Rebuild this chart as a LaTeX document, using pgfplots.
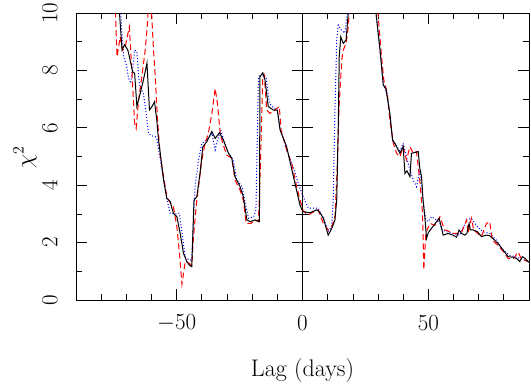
\documentclass[border=0pt]{standalone}
\usepackage{pgfplots}
\pgfplotsset{compat=1.18}
\usepackage{pgfplotstable}

% black solid curve
\pgfplotstableread{
x y
-76 14
-73.5 11
-71.7 8.71
-70.7 8.89
-69.4 8.71
-68.5 8.36
-67.5 7.95
-66.7 7.90
-65.8 6.74
-64.5 7.20
-63.2 7.67
-61.8 8.25
-60.8 6.62
-59.8 6.74
-58.8 6.91
-57.9 6.27
-57.2 5.57
-56.5 5.11
-55.2 4.18
-53.9 3.54
-52.6 3.43
-51.3 3.02
-49.9 2.90
-48.6 2.32
-47.3 1.63
-46.0 1.35
-45.0 1.22
-44.0 1.16
-43.1 3.48
-42.0 3.60
-40.7 4.42
-39.6 5.34
-38.0 5.52
-36.0 5.87
-34.7 5.63
-33.0 5.83
-31.4 5.57
-29.4 5.11
-28.1 4.94
-26.8 4.30
-24.8 3.95
-23.5 3.60
-22.1 2.79
-20.8 2.73
-18.8 2.79
-17.1 2.73
-16.9 7.78
-15.8 7.92
-14.9 7.67
-13.6 6.74
-11.6 6.62
-10.0 6.62
-8.9 5.92
-6.3 5.34
-3.0 4.07
-1.0 3.31
0.1 3.08
3.0 3.04
5.6 3.14
6.5 3.10
8.3 2.85
10.2 2.26
11.6 2.49
12.9 2.79
13.6 3.5
14.2 6.0
14.6 8.48
15.2 9.17
16.2 8.94
17.3 9.06
18.2 10.0
19.5 12
22 14
26 14
28.5 11
29.2 10
30.8 8.71
32.1 7.49
33.1 7.37
34.7 6.50
35.8 5.57
36.7 5.46
37.4 5.34
38.7 5.11
40.0 5.34
40.7 4.41
41.5 4.50
42.7 4.30
43.3 5.11
46.0 5.17
46.6 4.60
47.3 4.30
47.9 3.48
48.6 2.90
49.3 2.15
50.0 2.35
51.3 2.50
52.6 2.65
54.3 2.85
55.9 2.26
57.9 2.32
59.8 2.26
61.2 2.19
62.2 2.44
63.2 2.32
64.5 2.26
65.3 2.32
66.2 2.67
66.7 2.44
67.8 2.44
69.5 2.38
71.1 2.21
73.1 2.26
74.4 2.24
75.7 2.14
77.7 1.97
79.7 1.74
81.7 1.51
83.7 1.49
85.0 1.45
86.3 1.34
87.4 1.51
88.5 1.45
89.6 1.34
90.5 1.30
}\solidtab

% red dashed curve
\pgfplotstableread{
x y
-76 12
-74.4 10.2
-73.7 8.48
-72.4 9.17
-71.5 8.70
-70.5 8.80
-68.8 9.52
-67.8 8.00
-66.7 6.16
-66.1 5.98
-65.1 7.00
-63.8 7.80
-62.5 8.71
-61.8 9.41
-61.2 10.2
-60.6 10.4
-59.9 9.90
-59.2 8.71
-58.5 7.78
-57.9 6.74
-57.2 5.80
-56.5 4.99
-55.2 4.30
-53.9 3.60
-52.6 3.40
-51.3 3.25
-49.9 2.55
-48.9 1.63
-47.9 0.55
-46.6 1.34
-45.5 1.30
-44.0 1.22
-43.3 2.21
-42.0 3.48
-41.3 3.95
-40.0 4.88
-38.7 5.46
-37.4 5.81
-36.0 6.50
-34.7 7.37
-33.8 6.85
-32.7 5.81
-31.7 5.46
-30.1 5.05
-28.1 4.94
-26.8 4.18
-24.8 3.83
-23.5 3.48
-22.4 2.67
-20.5 2.67
-18.8 2.79
-17.5 2.73
-16.6 5.00
-15.8 7.78
-15.2 7.85
-14.2 6.62
-12.9 6.50
-11.0 6.62
-9.2 6.74
-8.5 5.92
-6.3 5.23
-4.3 4.76
-2.3 3.95
-1.0 3.50
0.3 3.10
2.3 2.96
4.0 3.05
6.2 3.14
8.3 2.67
10.2 2.44
11.6 2.55
12.9 2.90
13.8 4.64
14.6 6.85
15.6 8.36
16.2 8.71
17.3 8.94
18.2 9.52
18.8 10.3
20 13
26 14
29 11
29.8 10.2
31.4 8.48
32.3 7.67
33.7 7.20
34.7 6.27
36.1 5.46
37.4 5.11
38.7 4.99
40.0 5.34
41.3 4.88
42.7 5.34
44.0 5.11
45.3 5.17
46.6 4.18
47.7 3.02
48.2 1.05
49.0 2.32
50.6 2.67
52.6 2.60
54.6 2.90
56.5 2.44
58.0 2.40
59.8 2.32
61.8 2.32
63.2 2.35
65.2 2.79
65.8 2.32
67.1 2.85
68.0 2.44
71.1 2.21
73.1 2.67
74.4 2.73
75.4 2.09
77.7 1.90
79.7 1.70
81.7 1.45
83.7 1.43
85.7 1.67
87.0 1.43
89.6 1.34
90.5 1.30
}\dashtab

% blue dotted curve
\pgfplotstableread{
x y
-76 13
-72.5 10.5
-71.9 9.5
-71.1 8.48
-70.0 8.20
-69.1 7.72
-68.3 7.55
-67.5 8.00
-66.7 8.71
-65.8 8.65
-65.1 7.78
-64.5 7.40
-63.2 7.20
-61.8 6.27
-61.2 5.80
-59.8 5.72
-58.5 5.69
-57.9 5.63
-56.5 4.90
-55.2 4.18
-53.9 3.54
-52.6 3.02
-50.5 3.00
-48.9 3.02
-47.5 2.09
-46.6 1.50
-45.0 1.39
-44.0 1.40
-43.6 2.32
-42.7 3.95
-41.3 4.88
-40.0 5.46
-38.0 5.57
-36.0 5.81
-34.7 5.23
-33.8 5.57
-32.5 5.92
-30.9 5.46
-29.4 5.11
-27.5 4.88
-26.1 4.18
-24.0 3.95
-22.8 3.37
-21.4 2.85
-19.4 2.90
-18.5 3.14
-17.5 7.78
-16.2 7.85
-14.5 7.78
-13.1 6.85
-11.6 6.70
-10.0 6.62
-8.9 5.98
-6.3 5.23
-3.7 4.64
-1.7 4.07
0.3 3.60
2.3 3.20
6.2 3.20
8.3 2.85
10.2 2.40
11.6 2.55
12.2 3.48
12.9 6.62
13.6 9.06
14.2 9.58
15.5 9.40
16.8 9.30
17.9 10.0
19 12
26 14
28.5 11
29.2 10
30.8 8.71
32.1 7.49
33.7 7.20
34.7 6.50
35.8 5.57
37.4 5.34
38.7 5.20
40.0 5.46
41.3 4.99
42.7 4.53
44.0 4.18
45.3 3.95
46.6 4.53
47.9 3.48
49.0 2.79
49.9 2.73
51.3 2.90
53.0 2.80
54.6 2.67
55.5 2.44
57.2 2.38
59.8 2.32
62.5 2.26
65.2 2.79
67.1 2.85
69.0 2.60
71.6 2.38
74.4 2.32
77.0 2.09
79.7 1.74
82.3 1.56
85.0 1.49
87.0 1.43
89.6 1.34
90.5 1.30
}\dottab

\begin{document}
\begin{tikzpicture}
\pgfplotsset{
  panel/.style={
    scale only axis, width=169.875pt, height=215.25pt,
    anchor=south west,
    ymin=0, ymax=10,
    ytick={0,2,4,6,8,10}, minor ytick={1,3,5,7,9},
    tick align=inside,
    major tick length=8pt, minor tick length=4.5pt,
    every tick/.style={black, line width=0.5pt},
    axis line style={line width=0.6pt},
    tick label style={font=\fontsize{17}{20}\selectfont},
    yticklabel style={xshift=-19.5pt, rotate=90, anchor=center},
    xticklabel style={anchor=center, yshift=-17.25pt},
  },
  blk/.style={black, line width=0.75pt},
  rdd/.style={red, line width=0.75pt, dash pattern=on 4.5pt off 2.5pt},
  bld/.style={blue, line width=0.75pt, dash pattern=on 0.75pt off 1.5pt},
}
\path[use as bounding box] (-57pt,-62.25pt) rectangle (341.25pt,225pt);

\begin{axis}[panel, at={(0pt,0pt)},
  xmin=-90, xmax=0,
  xtick={-50}, minor xtick={-80,-70,-60,-40,-30,-20,-10}]
\addplot[bld] table {\dottab};
\addplot[rdd] table {\dashtab};
\addplot[blk] table {\solidtab};
\end{axis}

\begin{axis}[panel, at={(169.875pt,0pt)},
  xmin=0, xmax=90,
  xtick={0,50}, minor xtick={10,20,30,40,60,70,80},
  yticklabels={}]
\addplot[bld] table {\dottab};
\addplot[rdd] table {\dashtab};
\addplot[blk] table {\solidtab};
\end{axis}

\node[rotate=90, font=\fontsize{18}{22}\selectfont] at (-38.25pt,107.25pt) {$\chi^2$};
\node[font=\fontsize{18}{22}\selectfont] at (169.875pt,-53.25pt) {Lag (days)};
\end{tikzpicture}
\end{document}
